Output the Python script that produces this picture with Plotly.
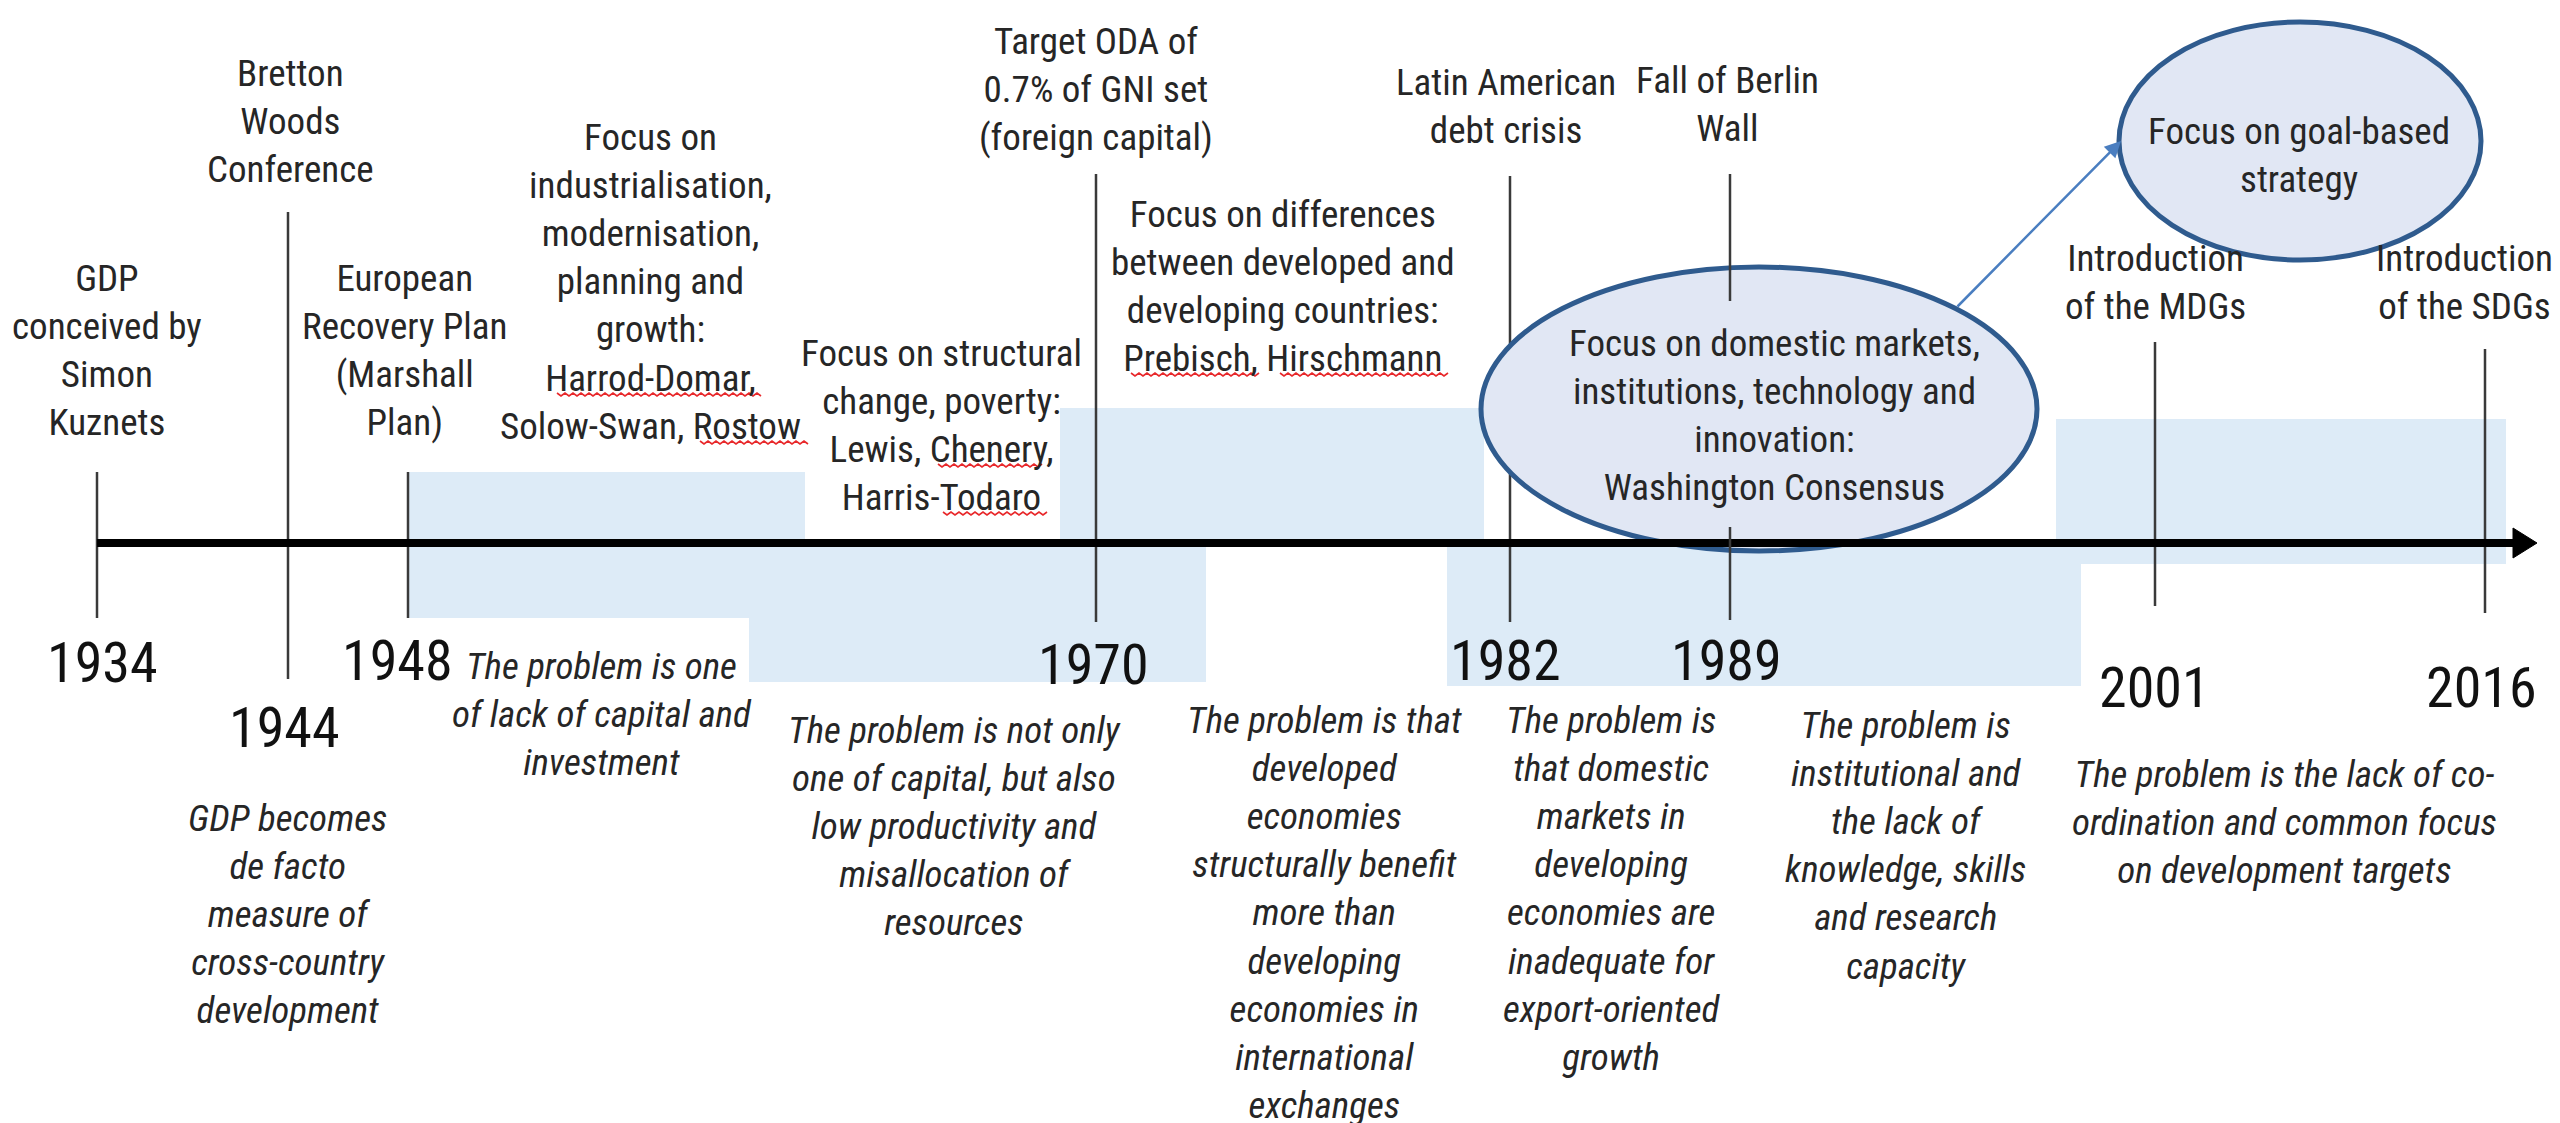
import plotly.graph_objects as go

# ---------------- data ----------------
years = [1934, 1944, 1948, 1970, 1982, 1989, 2001, 2016]

event_labels = [
    "GDP<br>conceived by<br>Simon<br>Kuznets",
    "Bretton<br>Woods<br>Conference",
    "European<br>Recovery Plan<br>(Marshall<br>Plan)",
    "Target ODA of<br>0.7% of GNI set<br>(foreign capital)",
    "Latin American<br>debt crisis",
    "Fall of Berlin<br>Wall",
    "Introduction<br>of the MDGs",
    "Introduction<br>of the SDGs",
]

focus_labels = [
    "Focus on<br>industrialisation,<br>modernisation,<br>planning and<br>growth:<br>Harrod-Domar,<br>Solow-Swan, Rostow",
    "Focus on structural<br>change, poverty:<br>Lewis, Chenery,<br>Harris-Todaro",
    "Focus on differences<br>between developed and<br>developing countries:<br>Prebisch, Hirschmann",
    "Focus on domestic markets,<br>institutions, technology and<br>innovation:<br>Washington Consensus",
    "Focus on goal-based<br>strategy",
]

problem_labels = [
    "GDP becomes<br>de facto<br>measure of<br>cross-country<br>development",
    "The problem is one<br>of lack of capital and<br>investment",
    "The problem is not only<br>one of capital, but also<br>low productivity and<br>misallocation of<br>resources",
    "The problem is that<br>developed<br>economies<br>structurally benefit<br>more than<br>developing<br>economies in<br>international<br>exchanges",
    "The problem is<br>that domestic<br>markets in<br>developing<br>economies are<br>inadequate for<br>export-oriented<br>growth",
    "The problem is<br>institutional and<br>the lack of<br>knowledge, skills<br>and research<br>capacity",
    "The problem is the lack of co-<br>ordination and common focus<br>on development targets",
]

# words carrying a red spell-check squiggle in the source
flagged_words = ["Harrod-Domar", "Rostow", "Chenery", "Todaro", "Prebisch", "Hirschmann"]

# ---------------- layout (pixel canvas positions) ----------------
W, H = 2560, 1123
AXIS_Y = 535
tick_x = [89, 280, 400, 1088, 1502, 1722, 2147, 2477]
tick_segments = [  # (top, bottom) per year, drawn behind the ellipses
    [(464, 610)], [(204, 671)], [(464, 610)], [(166, 614)], [(168, 614)],
    [], [(334, 598)], [(341, 605)],
]
tick_segments_front = {5: [(166, 293), (519, 612)]}

year_pos = [(94, 655), (276, 720), (389, 653), (1085, 657), (1497, 653),
            (1718, 653), (2146, 680), (2473, 680)]
event_pos = [(99, 342), (282, 113), (396, 342), (1088, 81), (1498, 98),
             (1719, 96), (2147, 274), (2456, 274)]
focus_pos = [(642, 274), (933, 417), (1275, 278), (1766, 407), (2291, 147)]
problem_pos = [(279, 906), (594, 706), (946, 818), (1316, 905), (1603, 881),
               (1897, 838), (2276, 814)]
squiggle_pos = [(549, 754, 386), (692, 800, 434), (930, 1037, 457),
                (935, 1040, 505), (1123, 1252, 366), (1272, 1440, 366)]

blue_rects = [  # x0, x1, y0, y1
    (400, 797, 464, AXIS_Y),
    (400, 1198, AXIS_Y, 610),
    (741, 1198, 609, 674),
    (1052, 1476, 400, AXIS_Y),
    (1439, 2073, AXIS_Y, 678),
    (2048, 2498, 411, 556),
]
ellipses = [(1473, 2029, 259, 543), (2111, 2473, 14, 252)]

FONT = "Liberation Sans Narrow, Arial Narrow, Roboto Condensed, DejaVu Sans Condensed, sans-serif"
TXT = "#262626"
BLUE_FILL = "#DDEBF7"
ELL_FILL = "#E1E7F4"
ELL_LINE = "#2F5B8E"

fig = go.Figure()
fig.add_trace(go.Scatter(x=tick_x, y=[AXIS_Y] * len(tick_x), mode="markers",
                         marker=dict(size=0.1, opacity=0), hoverinfo="skip", showlegend=False))

shapes = []
for x0, x1, y0, y1 in blue_rects:
    shapes.append(dict(type="rect", x0=x0, x1=x1, y0=y0, y1=y1, xref="x", yref="y",
                       fillcolor=BLUE_FILL, line=dict(width=0), layer="above"))
for i, segs in enumerate(tick_segments):
    for (t, b) in segs:
        shapes.append(dict(type="line", x0=tick_x[i], x1=tick_x[i], y0=t, y1=b,
                           xref="x", yref="y", line=dict(color="#3a3a3a", width=2.5)))
for x0, x1, y0, y1 in ellipses:
    shapes.append(dict(type="circle", x0=x0, x1=x1, y0=y0, y1=y1, xref="x", yref="y",
                       fillcolor=ELL_FILL, line=dict(color=ELL_LINE, width=5)))
# main time axis with arrow head
shapes.append(dict(type="line", x0=tick_x[0], x1=2510, y0=AXIS_Y, y1=AXIS_Y,
                   xref="x", yref="y", line=dict(color="black", width=8)))
shapes.append(dict(type="path", path=f"M 2505 {AXIS_Y-15} L 2529 {AXIS_Y} L 2505 {AXIS_Y+15} Z",
                   xref="x", yref="y", fillcolor="black", line=dict(color="black", width=1)))
for i, segs in tick_segments_front.items():
    for (t, b) in segs:
        shapes.append(dict(type="line", x0=tick_x[i], x1=tick_x[i], y0=t, y1=b,
                           xref="x", yref="y", line=dict(color="#3a3a3a", width=2.5)))

# red spell-check squiggles
for (x0, x1, y) in squiggle_pos:
    pts, x, k = [], x0, 0
    while x <= x1:
        pts.append(f"{x} {y + (2 if k % 2 else -1)}")
        x += 4
        k += 1
    shapes.append(dict(type="path", path="M " + " L ".join(pts), xref="x", yref="y",
                       line=dict(color="#e8282b", width=1.6)))

ann = []


def txt(x, y, s, size=37, italic=False, color=TXT):
    ann.append(dict(x=x, y=y, xref="x", yref="y", text=("<i>" + s + "</i>") if italic else s,
                    showarrow=False, xanchor="center", yanchor="middle", align="center",
                    font=dict(family=FONT, size=size, color=color)))


for lab, (x, y) in zip(event_labels, event_pos):
    txt(x, y, lab)
for lab, (x, y) in zip(focus_labels, focus_pos):
    txt(x, y, lab)
for lab, (x, y) in zip(problem_labels, problem_pos):
    txt(x, y, lab, italic=True)
for yr, (x, y) in zip(years, year_pos):
    txt(x, y, str(yr), size=56, color="#111111")

# arrow from Washington Consensus ellipse to goal-based strategy ellipse
ann.append(dict(x=2113, y=133, ax=1948, ay=300, xref="x", yref="y", axref="x", ayref="y",
                text="", showarrow=True, arrowhead=2, arrowsize=1.3, arrowwidth=2.5,
                arrowcolor="#4A7EC0"))

fig.update_layout(
    width=W, height=H, margin=dict(l=0, r=0, t=0, b=0),
    paper_bgcolor="white", plot_bgcolor="white",
    xaxis=dict(range=[0, W], visible=False, fixedrange=True),
    yaxis=dict(range=[H, 0], visible=False, fixedrange=True),
    shapes=shapes, annotations=ann, showlegend=False,
)
fig.write_html("out.html")
